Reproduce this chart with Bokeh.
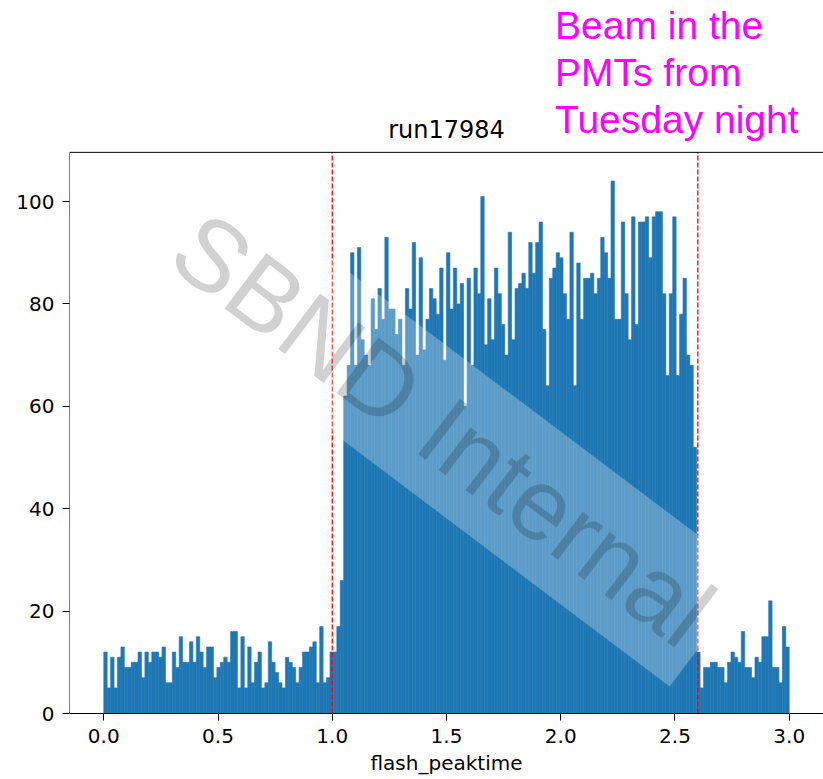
import numpy as np
from bokeh.plotting import figure
from bokeh.models import Range1d, FixedTicker, Label, ColumnDataSource, BoxAnnotation
from bokeh.embed import file_html
from bokeh.resources import INLINE

# ---------------- data ----------------
hist_range = (0.0, 3.0)
n_bins = 200
counts = [
    12, 5, 11, 5, 11, 13, 9, 9, 10, 10,
    12, 7, 12, 10, 12, 12, 11, 13, 6, 6,
    12, 9, 15, 10, 10, 14, 10, 15, 12, 9,
    13, 13, 7, 9, 10, 11, 10, 16, 16, 5,
    15, 5, 13, 6, 10, 12, 5, 6, 14, 10,
    8, 6, 5, 11, 10, 9, 6, 9, 12, 12,
    13, 14, 6, 17, 6, 7, 12, 12, 17, 26,
    62, 68, 90, 68, 91, 73, 70, 68, 81, 75,
    83, 77, 93, 79, 79, 74, 77, 68, 83, 79,
    92, 70, 89, 71, 77, 83, 81, 78, 87, 69,
    90, 79, 87, 80, 84, 60, 85, 68, 87, 82,
    101, 72, 81, 73, 87, 82, 76, 70, 94, 73,
    83, 84, 86, 83, 92, 86, 92, 96, 75, 64,
    85, 87, 90, 89, 82, 77, 94, 64, 88, 77,
    85, 85, 86, 82, 85, 93, 90, 85, 104, 77,
    77, 96, 82, 73, 97, 76, 96, 96, 97, 89,
    97, 98, 98, 82, 66, 82, 97, 66, 78, 85,
    70, 68, 52, 12, 5, 9, 9, 10, 10, 9,
    9, 6, 10, 12, 11, 10, 16, 9, 9, 7,
    11, 10, 15, 15, 22, 9, 9, 6, 17, 13,
]
beam_window = [1.0, 2.6]
x_limits = (-0.15, 3.15)
y_limits = (0.0, 109.6)
x_ticks = [0.0, 0.5, 1.0, 1.5, 2.0, 2.5, 3.0]
x_tick_labels = ["0.0", "0.5", "1.0", "1.5", "2.0", "2.5", "3.0"]
y_ticks = [0, 20, 40, 60, 80, 100]
y_tick_labels = ["0", "20", "40", "60", "80", "100"]
title_text = "run17984"
x_label = "flash_peaktime"
note_lines = ["Beam in the", "PMTs from", "Tuesday night"]
watermark_text = "SBND Internal"

# ---------------- figure ----------------
# The frame covers the full canvas above the axes so that the title / notes
# (in-frame labels) are not clipped; the visible axes box is a BoxAnnotation
# drawn at the axis limits.
W, H = 823, 779
left_border, bottom_border = 69, 66
px_per_y = 5.12
y_top_canvas = (H - bottom_border) / px_per_y

edges = np.linspace(hist_range[0], hist_range[1], n_bins + 1)
src = ColumnDataSource(dict(left=edges[:-1], right=edges[1:],
                            top=np.array(counts, dtype=float),
                            bottom=np.zeros(n_bins)))

p = figure(width=W, height=H, output_backend="svg", toolbar_location=None,
           x_range=Range1d(x_limits[0], x_limits[1]),
           y_range=Range1d(0, y_top_canvas),
           min_border_left=left_border, min_border_right=0, min_border_top=0,
           min_border_bottom=bottom_border)
p.background_fill_color = "white"
p.border_fill_color = "white"
p.grid.visible = False
p.outline_line_color = None

p.quad(left="left", right="right", top="top", bottom="bottom", source=src,
       fill_color="#1f77b4", line_color="#1f77b4", line_width=0.6)

# axes
for ax in (p.xaxis[0], p.yaxis[0]):
    ax.axis_line_color = "black"
    ax.major_tick_line_color = "black"
    ax.major_tick_out = 7
    ax.major_tick_in = 0
    ax.minor_tick_line_color = None
    ax.major_label_text_font = "DejaVu Sans"
    ax.major_label_text_font_size = "20px"
    ax.major_label_text_color = "black"
    ax.axis_label_text_font = "DejaVu Sans"
    ax.axis_label_text_font_size = "20px"
    ax.axis_label_text_font_style = "normal"
    ax.axis_label_text_color = "black"
p.yaxis.axis_line_color = None

p.xaxis.ticker = FixedTicker(ticks=x_ticks)
p.xaxis.major_label_overrides = {t: s for t, s in zip(x_ticks, x_tick_labels)}
p.yaxis.ticker = FixedTicker(ticks=y_ticks)
p.yaxis.major_label_overrides = {t: s for t, s in zip(y_ticks, y_tick_labels)}
p.xaxis.axis_label = x_label
p.xaxis.major_label_standoff = 8
p.xaxis.axis_label_standoff = 5
p.yaxis.major_label_standoff = 8

# watermark
wm = Label(x=1.485, y=55.5, text=watermark_text,
           angle=-37, angle_units="deg", text_align="center", text_baseline="middle",
           text_font="Liberation Sans", text_font_size="101px", text_color="black",
           text_alpha=0.18, background_fill_color="white", background_fill_alpha=0.28,
           padding=13)
p.add_layout(wm)

# beam window lines (within the axes box only)
p.segment(x0=beam_window, x1=beam_window, y0=[y_limits[0]] * 2, y1=[y_limits[1]] * 2,
          line_color="red", line_width=1.3, line_dash="5 2")

# axes box (spines)
p.add_layout(BoxAnnotation(left=x_limits[0], right=x_limits[1], bottom=y_limits[0],
                           top=y_limits[1], fill_color=None, fill_alpha=0,
                           line_color="black", line_alpha=1.0, line_width=1))

# title
p.add_layout(Label(x=(x_limits[0] + x_limits[1]) / 2, y=113.87, text=title_text,
                   text_align="center", text_baseline="middle",
                   text_font="DejaVu Sans", text_font_size="24px", text_color="black"))

# annotation note
note_y = [134.4, 125.2, 116.0]
for line, yy in zip(note_lines, note_y):
    p.add_layout(Label(x=1.975, y=yy, text=line, text_align="left",
                       text_baseline="middle", text_font="Liberation Sans",
                       text_font_size="39px", text_color="#ff00ff"))

open("out.html", "w").write(file_html(p, INLINE))
